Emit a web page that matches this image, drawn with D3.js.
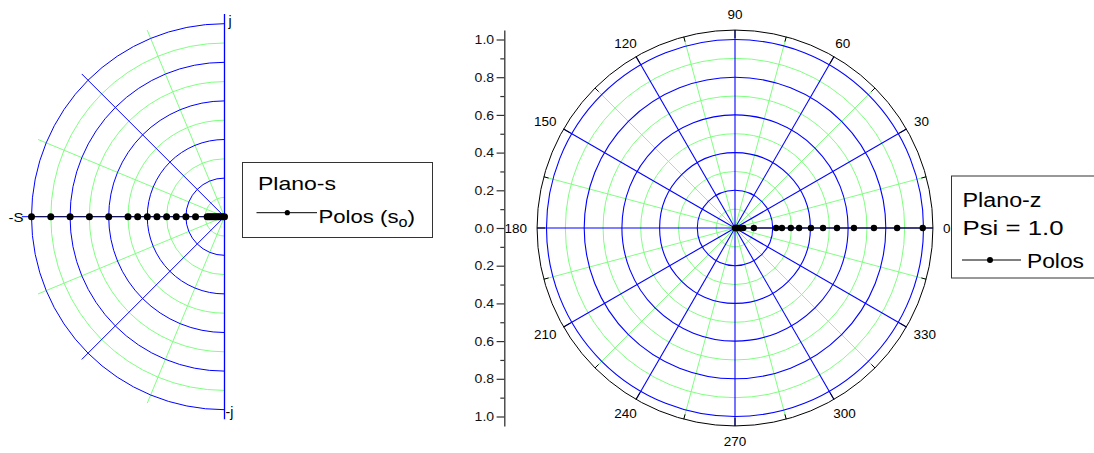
<!DOCTYPE html>
<html>
<head>
<meta charset="utf-8">
<script src="https://cdn.jsdelivr.net/npm/d3@7"></script>
<style>
  html, body { margin: 0; padding: 0; background: #fff; }
  svg { display: block; font-family: "Liberation Sans", Arial, sans-serif; }
</style>
</head>
<body>
<svg id="chart" width="1094" height="453"></svg>
<script>
// ---- data ----
// s-plane poles (real parts, normalised to S)
const sPoles = [-1.0, -0.9, -0.8, -0.7, -0.6, -0.5, -0.45, -0.4, -0.35, -0.3, -0.25, -0.2, -0.15,
                -0.09, -0.08, -0.07, -0.06, -0.05, -0.04, -0.03, -0.02, -0.01, 0.0];
// z-plane poles (magnitude, angle 0)
const zPoles = [0.996, 0.86, 0.737, 0.631, 0.541, 0.467, 0.403, 0.34, 0.296, 0.249, 0.218,
                0.1, 0.044, 0.023, 0.012, 0.005, 0.0];
const blueRings = [0.2, 0.4, 0.6, 0.8, 1.0];
const greenRings = [0.1, 0.3, 0.5, 0.7, 0.9];
const sBlueSpokes = [135, 225];
const sGreenSpokes = [112.5, 157.5, 202.5, 247.5];
const zBlueSpokes = [0, 30, 60, 90, 120, 150, 180, 210, 240, 270, 300, 330];
const zGreenSpokes = [15, 45, 75, 105, 135, 165, 195, 225, 255, 285, 315, 345];
const angleLabels = ["0", "30", "60", "90", "120", "150", "180", "210", "240", "270", "300", "330"];
const yMajor = [-1.0, -0.8, -0.6, -0.4, -0.2, 0.0, 0.2, 0.4, 0.6, 0.8, 1.0];
const yMinor = [-0.9, -0.7, -0.5, -0.3, -0.1, 0.1, 0.3, 0.5, 0.7, 0.9];

const BLUE = "#0000ff", GREEN = "#80ff80";
const svg = d3.select("#chart");
const rad = d => d * Math.PI / 180;
// wide-set text: stretch each string to a fixed run length
function wide(sel, len) {
  return sel.attr("textLength", len).attr("lengthAdjust", "spacingAndGlyphs");
}

// ================= s-plane (left) =================
const sC = { x: 224.5, y: 216.7 };
const sR = d3.scaleLinear().domain([0, 1]).range([0, 193]);
const sX = d3.scaleLinear().domain([-1, 0]).range([sC.x - sR(1), sC.x]);
const sEdge = 1.046;
const gS = svg.append("g");

function halfRing(r) {
  const p = d3.path();
  p.moveTo(sC.x, sC.y + sR(r));
  p.arc(sC.x, sC.y, sR(r), Math.PI / 2, 3 * Math.PI / 2);
  return p.toString();
}
function sSpoke(a) {
  return [[sC.x, sC.y], [sC.x + sR(sEdge) * Math.cos(rad(a)), sC.y - sR(sEdge) * Math.sin(rad(a))]];
}
const lineGen = d3.line();

gS.selectAll(".sg").data(greenRings).join("path")
  .attr("d", halfRing).attr("fill", "none").attr("stroke", GREEN).attr("stroke-width", 1);
gS.selectAll(".sgs").data(sGreenSpokes).join("path")
  .attr("d", a => lineGen(sSpoke(a))).attr("stroke", GREEN).attr("stroke-width", 1);
gS.selectAll(".sb").data(blueRings).join("path")
  .attr("d", halfRing).attr("fill", "none").attr("stroke", BLUE).attr("stroke-width", 1);
gS.selectAll(".sbs").data(sBlueSpokes).join("path")
  .attr("d", a => lineGen(sSpoke(a))).attr("stroke", BLUE).attr("stroke-width", 1);
// imaginary and real axes
gS.append("line").attr("x1", sC.x).attr("x2", sC.x)
  .attr("y1", sC.y - sR(1.05)).attr("y2", sC.y + sR(1.05)).attr("stroke", BLUE).attr("stroke-width", 1.3);
gS.append("line").attr("x1", sX(-1.05)).attr("x2", sC.x)
  .attr("y1", sC.y).attr("y2", sC.y).attr("stroke", BLUE).attr("stroke-width", 1);
// pole trace
gS.append("path")
  .attr("d", lineGen(sPoles.map(v => [sX(v), sC.y])))
  .attr("stroke", "#000").attr("stroke-width", 0.8).attr("fill", "none");
gS.selectAll(".sp").data(sPoles).join("circle")
  .attr("cx", d => sX(d)).attr("cy", sC.y).attr("r", 3.5).attr("fill", "#000");
// axis labels
wide(gS.append("text").attr("x", 23.5).attr("y", 221.7).attr("text-anchor", "end")
  .attr("font-size", 13).text("-S"), 15);
gS.append("text").attr("x", 228.5).attr("y", 25.5).attr("font-size", 14).text("j");
gS.append("text").attr("x", 225.5).attr("y", 417).attr("font-size", 14).text("-j");

// legend (s-plane)
const lgS = svg.append("g");
lgS.append("rect").attr("x", 242.5).attr("y", 162.5).attr("width", 190).attr("height", 75)
  .attr("fill", "#fff").attr("stroke", "#333").attr("stroke-width", 1);
wide(lgS.append("text").attr("x", 258).attr("y", 190).attr("font-size", 19).text("Plano-s"), 78);
lgS.append("line").attr("x1", 256.5).attr("x2", 317).attr("y1", 212.7).attr("y2", 212.7)
  .attr("stroke", "#000").attr("stroke-width", 1);
lgS.append("circle").attr("cx", 287.3).attr("cy", 212.7).attr("r", 2.6).attr("fill", "#000");
const tS = lgS.append("text").attr("x", 318.5).attr("y", 222.5).attr("font-size", 19);
wide(tS.append("tspan").text("Polos (s"), 80);
wide(tS.append("tspan").attr("font-size", 14).attr("dy", 4.5).text("o"), 9);
wide(tS.append("tspan").attr("dy", -4.5).text(")"), 7.5);

// ================= z-plane (right) =================
const zC = { x: 735, y: 228 };
const zR = d3.scaleLinear().domain([0, 1]).range([0, 188.5]);
const zOuter = 1.05;
const gZ = svg.append("g");
function zPt(r, a) {
  return [zC.x + zR(r) * Math.cos(rad(a)), zC.y - zR(r) * Math.sin(rad(a))];
}

gZ.selectAll(".zg").data(greenRings).join("circle")
  .attr("cx", zC.x).attr("cy", zC.y).attr("r", d => zR(d))
  .attr("fill", "none").attr("stroke", GREEN).attr("stroke-width", 1);
gZ.selectAll(".zgs").data(zGreenSpokes).join("path")
  .attr("d", a => lineGen([zPt(0, a), zPt(zOuter, a)])).attr("stroke", GREEN).attr("stroke-width", 1);
gZ.selectAll(".zb").data(blueRings).join("circle")
  .attr("cx", zC.x).attr("cy", zC.y).attr("r", d => zR(d))
  .attr("fill", "none").attr("stroke", BLUE).attr("stroke-width", 1.1);
gZ.selectAll(".zbs").data(zBlueSpokes).join("path")
  .attr("d", a => lineGen([zPt(0, a), zPt(zOuter, a)])).attr("stroke", BLUE).attr("stroke-width", 1.1);
// outer frame with angular ticks
gZ.append("circle").attr("cx", zC.x).attr("cy", zC.y).attr("r", zR(zOuter))
  .attr("fill", "none").attr("stroke", "#000").attr("stroke-width", 1);
gZ.selectAll(".zmaj").data(zBlueSpokes).join("path")
  .attr("d", a => lineGen([zPt(zOuter, a), zPt(zOuter - 8 / 188.5, a)]))
  .attr("stroke", "#000").attr("stroke-width", 1);
gZ.selectAll(".zmin").data(zGreenSpokes).join("path")
  .attr("d", a => lineGen([zPt(zOuter, a), zPt(zOuter - 5 / 188.5, a)]))
  .attr("stroke", "#000").attr("stroke-width", 1);
// angle labels
gZ.selectAll(".zlab").data(zBlueSpokes).join("text")
  .attr("font-size", 13).attr("text-anchor", "middle").attr("dy", "0.36em")
  .attr("x", (a, i) => {
    const w = angleLabels[i].length * 7.5;
    return zPt(zOuter, a)[0] + 10 * Math.cos(rad(a)) + Math.cos(rad(a)) * w / 2;
  })
  .attr("y", a => zPt(zOuter, a)[1] - 11 * Math.sin(rad(a)) - Math.sin(rad(a)) * 4.7)
  .attr("textLength", (a, i) => angleLabels[i].length * 7.5)
  .attr("lengthAdjust", "spacingAndGlyphs")
  .text((a, i) => angleLabels[i]);

// pole trace
gZ.append("path")
  .attr("d", lineGen(zPoles.map(v => zPt(v, 0))))
  .attr("stroke", "#000").attr("stroke-width", 1).attr("fill", "none");
gZ.selectAll(".zp").data(zPoles).join("circle")
  .attr("cx", d => zPt(d, 0)[0]).attr("cy", zC.y).attr("r", 3.2).attr("fill", "#000");

// radial value axis on the left
const yS = d3.scaleLinear().domain([-zOuter, zOuter]).range([zC.y + zR(zOuter), zC.y - zR(zOuter)]);
const axisX = 504.3;
const yAxis = svg.append("g").attr("transform", `translate(${axisX},0)`)
  .call(d3.axisLeft(yS).tickValues(yMajor).tickSizeInner(7.7).tickSizeOuter(0).tickPadding(2.5)
        .tickFormat(d => Math.abs(d).toFixed(1)));
yAxis.select(".domain").attr("stroke", "#333").attr("stroke-width", 1.3);
yAxis.selectAll(".tick line").attr("stroke", "#333").attr("stroke-width", 1.2);
yAxis.selectAll(".tick text").attr("font-size", 13).attr("font-family", "Liberation Sans, Arial, sans-serif")
  .attr("fill", "#111").attr("textLength", 19.5).attr("lengthAdjust", "spacingAndGlyphs");
svg.append("g").attr("transform", `translate(${axisX},0)`)
  .call(d3.axisLeft(yS).tickValues(yMinor).tickSize(4).tickFormat(""))
  .call(g => g.select(".domain").remove())
  .call(g => g.selectAll(".tick line").attr("stroke", "#333").attr("stroke-width", 1.2));

// legend (z-plane)
const lgZ = svg.append("g");
lgZ.append("rect").attr("x", 951.5).attr("y", 176).attr("width", 160).attr("height", 102)
  .attr("fill", "#fff").attr("stroke", "#333").attr("stroke-width", 1);
wide(lgZ.append("text").attr("x", 962.5).attr("y", 206.5).attr("font-size", 19.5).text("Plano-z"), 79);
wide(lgZ.append("text").attr("x", 962.5).attr("y", 235).attr("font-size", 19.5).text("Psi = 1.0"), 101);
lgZ.append("line").attr("x1", 962).attr("x2", 1021).attr("y1", 260).attr("y2", 260)
  .attr("stroke", "#000").attr("stroke-width", 1);
lgZ.append("circle").attr("cx", 990).attr("cy", 260).attr("r", 3).attr("fill", "#000");
wide(lgZ.append("text").attr("x", 1027).attr("y", 268).attr("font-size", 19.5).text("Polos"), 57);
</script>
</body>
</html>
